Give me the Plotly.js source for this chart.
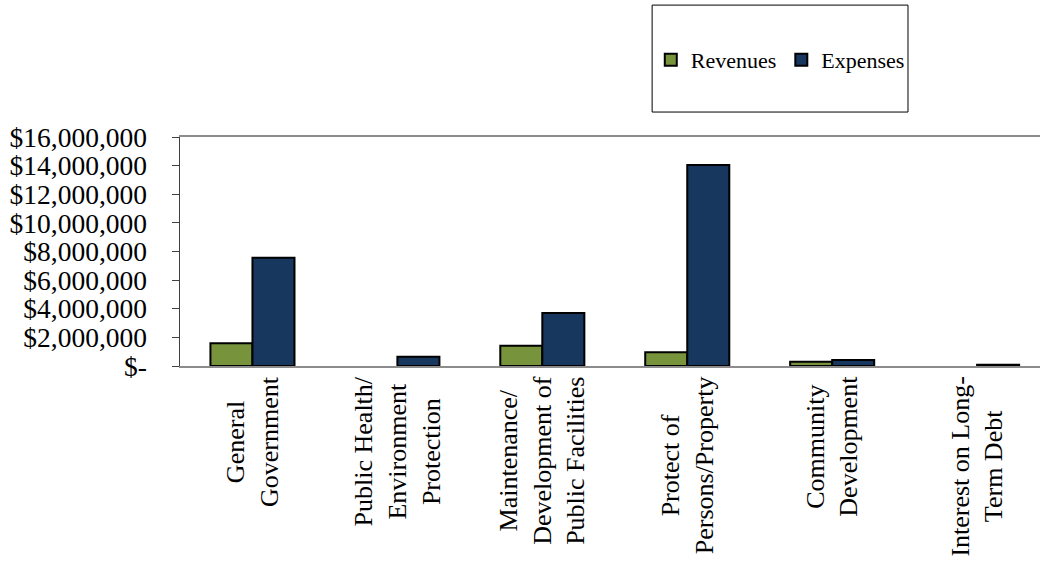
<!DOCTYPE html>
<html>
<head>
<meta charset="utf-8">
<script src="https://cdn.plot.ly/plotly-3.0.1.min.js"></script>
<style>
  html, body { margin: 0; padding: 0; background: #ffffff; }
  #chart { width: 1040px; height: 568px; }
</style>
</head>
<body>
<div id="chart"></div>
<script>
// ---- data ----
const categories = [
  "General Government",
  "Public Health/ Environment Protection",
  "Maintenance/ Development of Public Facilities",
  "Protect of Persons/Property",
  "Community Development",
  "Interest on Long-Term Debt"
];
const categoryLabels = [
  "General<br>Government",
  "Public Health/<br>Environment<br>Protection",
  "Maintenance/<br>Development of<br>Public Facilities",
  "Protect of<br>Persons/Property",
  "Community<br>Development",
  "Interest on Long-<br>Term Debt"
];
const revenues = [1590000, null, 1420000, 960000, 300000, null];
const expenses = [7570000, 650000, 3700000, 14050000, 420000, 90000];
const yTickValues = [0, 2000000, 4000000, 6000000, 8000000, 10000000, 12000000, 14000000, 16000000];
const yTickLabels = ["$-", "$2,000,000", "$4,000,000", "$6,000,000", "$8,000,000",
                     "$10,000,000", "$12,000,000", "$14,000,000", "$16,000,000"];

const serif = "'Liberation Serif', 'Times New Roman', serif";

const traces = [
  {
    type: "bar", name: "Revenues", x: categories, y: revenues,
    marker: { color: "#77933C", line: { color: "#000000", width: 2 } },
    hoverinfo: "skip"
  },
  {
    type: "bar", name: "Expenses", x: categories, y: expenses,
    marker: { color: "#17375E", line: { color: "#000000", width: 2 } },
    hoverinfo: "skip"
  }
];

const annotations = categories.map((c, i) => ({
  x: c, xref: "x", y: -0.035, yref: "paper",
  text: categoryLabels[i], showarrow: false, textangle: -90,
  xanchor: "center", yanchor: "top", align: "center",
  font: { family: serif, size: 26, color: "#000000" }
}));

const layout = {
  width: 1040, height: 568,
  margin: { l: 180, r: 0, t: 137, b: 202 },
  paper_bgcolor: "#ffffff", plot_bgcolor: "#ffffff",
  font: { family: serif, color: "#000000" },
  barmode: "group", bargap: 0.42, bargroupgap: 0,
  showlegend: true,
  legend: {
    orientation: "h", x: 0.698, y: 1.336, xanchor: "center", yanchor: "middle",
    font: { family: serif, size: 22, color: "#000000" },
    bgcolor: "rgba(0,0,0,0)", borderwidth: 0, traceorder: "normal"
  },
  xaxis: {
    type: "category", range: [-0.5, 5.434],
    showticklabels: false, ticks: "",
    showline: true, mirror: true, linecolor: "#8c8c8c", linewidth: 2,
    showgrid: false, zeroline: false, fixedrange: true
  },
  yaxis: {
    range: [0, 16000000], tickvals: yTickValues, ticktext: yTickLabels,
    ticks: "outside", ticklen: 7, tickcolor: "#404040", tickwidth: 1,
    ticklabelstandoff: 19,
    tickfont: { family: serif, size: 27.5, color: "#000000" },
    showline: true, linecolor: "#404040", linewidth: 1.5,
    showgrid: false, zeroline: false, fixedrange: true
  },
  shapes: [{
    type: "rect", xref: "paper", yref: "paper",
    x0: 0.549, x1: 0.8465, y0: 1.109, y1: 1.576,
    line: { color: "#000000", width: 1 }, fillcolor: "rgba(0,0,0,0)"
  }],
  annotations: annotations
};

Plotly.newPlot("chart", traces, layout, { staticPlot: true, displayModeBar: false });
</script>
</body>
</html>
